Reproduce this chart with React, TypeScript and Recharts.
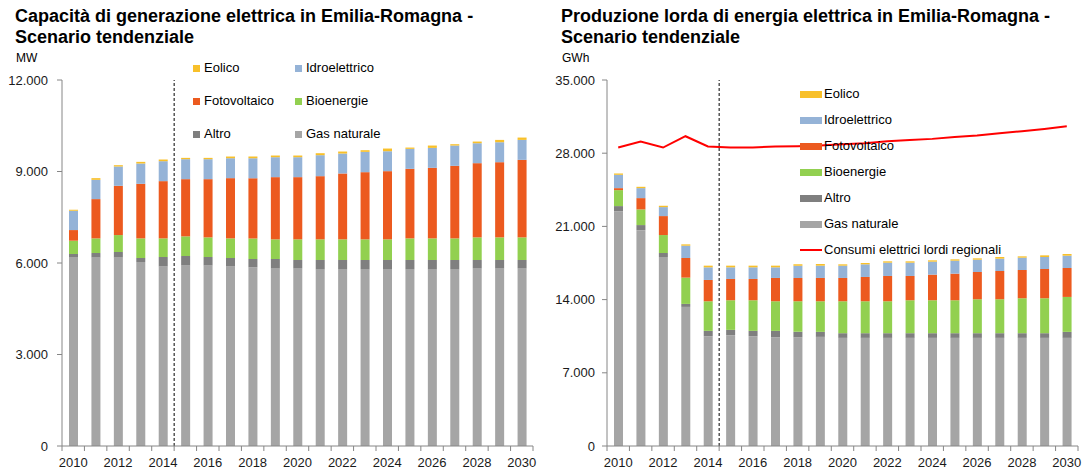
import React from 'react';
import {
  ComposedChart,
  Bar,
  Line,
  XAxis,
  YAxis,
  ReferenceLine,
} from 'recharts';

const years = [
  '2010', '2011', '2012', '2013', '2014', '2015', '2016', '2017', '2018', '2019', '2020',
  '2021', '2022', '2023', '2024', '2025', '2026', '2027', '2028', '2029', '2030',
];

// Capacità (MW)
const gasMW = [6185, 6185, 6185, 6033, 5891, 5924, 5924, 5891, 5858, 5815, 5815, 5782, 5782, 5782, 5782, 5782, 5782, 5782, 5815, 5815, 5815];
const altroMW = [110, 142, 175, 131, 305, 305, 272, 273, 273, 316, 283, 316, 316, 316, 316, 316, 316, 316, 283, 283, 283];
const bioMW = [436, 480, 556, 643, 611, 644, 644, 643, 676, 644, 677, 677, 677, 677, 677, 709, 709, 709, 742, 742, 742];
const fotoMW = [349, 1288, 1615, 1789, 1877, 1876, 1909, 1975, 1975, 2040, 2040, 2072, 2160, 2203, 2236, 2280, 2313, 2378, 2433, 2465, 2542];
const idroMW = [633, 632, 633, 666, 654, 655, 655, 654, 654, 654, 654, 688, 654, 666, 654, 655, 654, 666, 654, 655, 654];
const eolicoMW = [33, 55, 43, 54, 55, 43, 43, 55, 55, 55, 55, 65, 66, 54, 88, 43, 77, 44, 55, 76, 77];

// Produzione lorda (GWh)
const gasGWh = [22432, 20618, 18073, 13301, 10500, 10596, 10500, 10405, 10405, 10437, 10341, 10341, 10341, 10341, 10341, 10341, 10341, 10341, 10341, 10341, 10341];
const altroGWh = [510, 509, 382, 286, 509, 509, 509, 604, 509, 477, 446, 446, 446, 446, 446, 446, 446, 446, 446, 446, 573];
const bioGWh = [1527, 1496, 1718, 2514, 2832, 2832, 2928, 2832, 2927, 2927, 3054, 3054, 3054, 3150, 3150, 3150, 3245, 3245, 3341, 3341, 3341];
const fotoGWh = [191, 1082, 1814, 1877, 2037, 2036, 2036, 2228, 2228, 2228, 2228, 2323, 2419, 2323, 2450, 2545, 2609, 2705, 2704, 2800, 2768];
const idroGWh = [1273, 955, 859, 1177, 1209, 1114, 1114, 1018, 1177, 1177, 1177, 1209, 1273, 1273, 1241, 1241, 1178, 1177, 1178, 1145, 1178];
const eolicoGWh = [127, 127, 128, 127, 159, 159, 159, 159, 127, 159, 127, 127, 127, 127, 127, 128, 127, 159, 127, 159, 159];
const consumiGWh = [28543, 29115, 28543, 29624, 28638, 28543, 28543, 28638, 28670, 28733, 28861, 28956, 29147, 29274, 29370, 29560, 29688, 29911, 30101, 30324, 30579];

const ticksMW = [0, 3000, 6000, 9000, 12000];
const ticksGWh = [0, 7000, 14000, 21000, 28000, 35000];

const series = [
  { key: 'gas', name: 'Gas naturale', color: '#A5A5A5' },
  { key: 'altro', name: 'Altro', color: '#7F7F7F' },
  { key: 'bio', name: 'Bioenergie', color: '#92D050' },
  { key: 'foto', name: 'Fotovoltaico', color: '#EC5A1F' },
  { key: 'idro', name: 'Idroelettrico', color: '#95B3D7' },
  { key: 'eolico', name: 'Eolico', color: '#F8C02A' },
];
const lineSeries = { key: 'consumi', name: 'Consumi elettrici lordi regionali', color: '#FF0000' };

const dataMW = years.map((y, i) => ({
  year: y,
  gas: gasMW[i],
  altro: altroMW[i],
  bio: bioMW[i],
  foto: fotoMW[i],
  idro: idroMW[i],
  eolico: eolicoMW[i],
}));

const dataGWh = years.map((y, i) => ({
  year: y,
  gas: gasGWh[i],
  altro: altroGWh[i],
  bio: bioGWh[i],
  foto: fotoGWh[i],
  idro: idroGWh[i],
  eolico: eolicoGWh[i],
  consumi: consumiGWh[i],
}));

const FONT = '"Liberation Sans", Arial, sans-serif';
const AXIS = '#868686';
const CHART_W = 537;
const CHART_H = 470;
const Y_W = 62;
const PLOT_W = 471;

const fmt = (v: number) => String(v).replace(/\B(?=(\d{3})+(?!\d))/g, '.');

function XTick(props: any) {
  const { x, y, payload } = props;
  const index = props.index ?? payload.index;
  const band = PLOT_W / years.length;
  return (
    <g>
      <line x1={x - band / 2} x2={x - band / 2} y1={y} y2={y + 5} stroke={AXIS} />
      {index === years.length - 1 && (
        <line x1={x + band / 2} x2={x + band / 2} y1={y} y2={y + 5} stroke={AXIS} />
      )}
      {index % 2 === 0 && (
        <text x={x} y={y + 21} textAnchor="middle" fontSize={13} fill="#1a1a1a" fontFamily={FONT}>
          {payload.value}
        </text>
      )}
    </g>
  );
}

function Panel({ data, domain, ticks, tickMargin, withLine }: any) {
  return (
    <ComposedChart
      width={CHART_W}
      height={CHART_H}
      data={data}
      margin={{ top: 80, right: CHART_W - Y_W - PLOT_W, bottom: 0, left: 0 }}
    >
      <XAxis
        dataKey="year"
        interval={0}
        height={24}
        stroke={AXIS}
        tickLine={false}
        tickSize={0}
        tickMargin={0}
        tick={<XTick />}
      />
      <YAxis
        type="number"
        domain={domain}
        ticks={ticks}
        width={Y_W}
        stroke={AXIS}
        tickSize={5}
        tickMargin={tickMargin}
        tickFormatter={fmt}
        tick={{ fontSize: 13, fill: '#1a1a1a', fontFamily: FONT }}
      />
      {series.map((s) => (
        <Bar
          key={s.key}
          dataKey={s.key}
          name={s.name}
          stackId="a"
          fill={s.color}
          barSize={9}
          isAnimationActive={false}
        />
      ))}
      {withLine && (
        <Line
          dataKey={lineSeries.key}
          name={lineSeries.name}
          stroke={lineSeries.color}
          strokeWidth={2}
          dot={false}
          activeDot={false}
          isAnimationActive={false}
        />
      )}
      <ReferenceLine x="2014" position="end" stroke="#000" strokeDasharray="3 2" />
    </ComposedChart>
  );
}

const textStyle: React.CSSProperties = { position: 'absolute', fontFamily: FONT, color: '#000', whiteSpace: 'nowrap' };

export default function App() {
  const leftLegend = [
    ['eolico', 'idro'],
    ['foto', 'bio'],
    ['altro', 'gas'],
  ];
  const rightLegend = ['eolico', 'idro', 'foto', 'bio', 'altro', 'gas'];
  const byKey = (k: string) => series.find((s) => s.key === k)!;

  return (
    <div style={{ position: 'absolute', left: 0, top: 0, width: 1082, height: 470, background: '#fff', overflow: 'hidden' }}>
      <div style={{ ...textStyle, left: 15, top: 6, fontSize: 18, fontWeight: 'bold', lineHeight: '21px' }}>
        Capacità di generazione elettrica in Emilia-Romagna -<br />Scenario tendenziale
      </div>
      <div style={{ ...textStyle, left: 16, top: 52, fontSize: 12, lineHeight: '12px' }}>MW</div>

      <div style={{ ...textStyle, left: 561, top: 6, fontSize: 18, fontWeight: 'bold', lineHeight: '21px' }}>
        Produzione lorda di energia elettrica in Emilia-Romagna -<br />Scenario tendenziale
      </div>
      <div style={{ ...textStyle, left: 562, top: 52, fontSize: 12, lineHeight: '12px' }}>GWh</div>

      <div style={{ position: 'absolute', left: 0, top: 0 }}>
        <Panel data={dataMW} domain={[0, 12000]} ticks={ticksMW} tickMargin={9} withLine={false} />
      </div>
      <div style={{ position: 'absolute', left: 545, top: 0 }}>
        <Panel data={dataGWh} domain={[0, 35000]} ticks={ticksGWh} tickMargin={7} withLine />
      </div>

      {leftLegend.map((row, r) =>
        row.map((k, c) => {
          const s = byKey(k);
          const left = 193 + c * 102;
          const cy = 68 + r * 33;
          return (
            <React.Fragment key={k}>
              <div style={{ position: 'absolute', left, top: cy - 3.5, width: 7, height: 7, background: s.color }} />
              <div style={{ ...textStyle, left: left + 11, top: cy - 8, fontSize: 13, lineHeight: '16px' }}>{s.name}</div>
            </React.Fragment>
          );
        })
      )}

      {rightLegend.map((k, i) => {
        const s = byKey(k);
        const cy = 94 + i * 26;
        return (
          <React.Fragment key={k}>
            <div style={{ position: 'absolute', left: 800, top: cy - 3.5, width: 22, height: 7, background: s.color }} />
            <div style={{ ...textStyle, left: 824, top: cy - 8, fontSize: 13, lineHeight: '16px' }}>{s.name}</div>
          </React.Fragment>
        );
      })}
      <div style={{ position: 'absolute', left: 800, top: 94 + 6 * 26 - 1, width: 22, height: 2, background: lineSeries.color }} />
      <div style={{ ...textStyle, left: 824, top: 94 + 6 * 26 - 8, fontSize: 13, lineHeight: '16px' }}>{lineSeries.name}</div>
    </div>
  );
}
